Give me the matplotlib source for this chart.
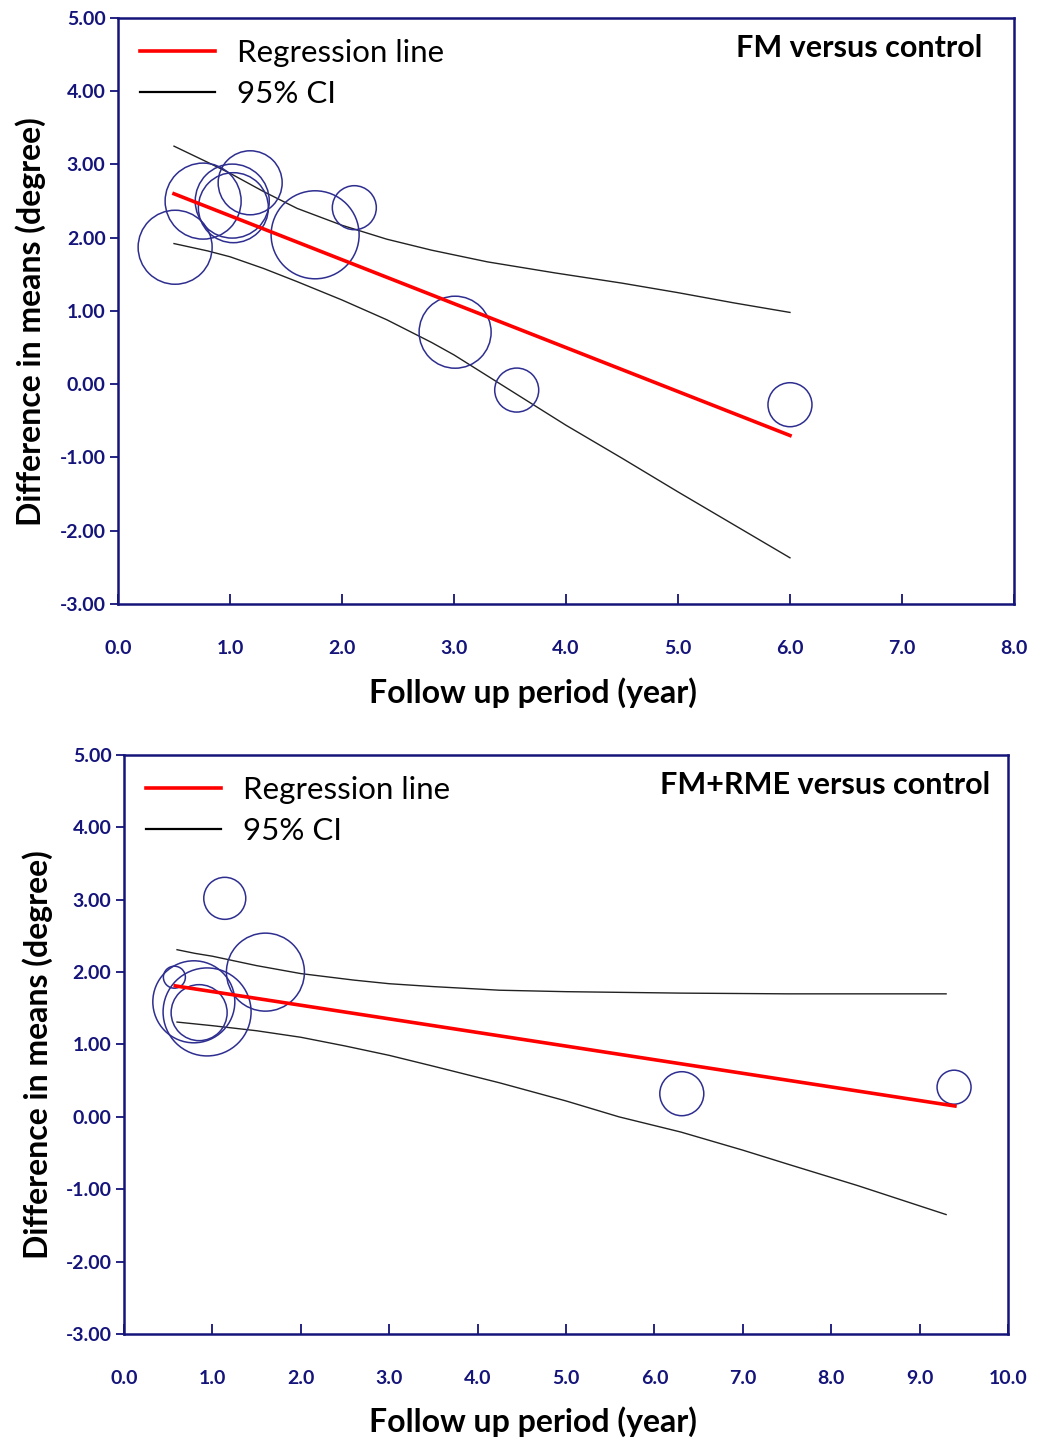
import matplotlib.pyplot as plt
from matplotlib.lines import Line2D

plt.rcParams['font.family'] = ['Lato', 'DejaVu Sans']

NAVY = '#14147a'
CIRCLE = '#2e2e90'

# --- FM versus control --------------------------------------------------
fm_years = [0.51, 0.76, 1.02, 1.03, 1.18, 1.76, 2.11, 3.01, 3.56, 6.00]
fm_diff = [1.87, 2.50, 2.50, 2.41, 2.75, 2.04, 2.41, 0.71, -0.08, -0.28]
fm_weight = [37, 38, 37, 35, 32, 44, 22, 36, 22, 22]

fm_reg_x = [0.5, 6.0]
fm_reg_y = [2.60, -0.70]

fm_ci_up_x = [0.5, 0.8, 1.0, 1.3, 1.6, 2.0, 2.4, 2.8, 3.3, 3.9, 4.5, 5.0, 5.5, 6.0]
fm_ci_up_y = [3.25, 3.03, 2.88, 2.63, 2.40, 2.17, 1.98, 1.83, 1.67, 1.52, 1.38,
              1.25, 1.11, 0.98]
fm_ci_lo_x = [0.5, 0.8, 1.0, 1.3, 1.6, 2.0, 2.4, 2.8, 3.0, 3.5, 4.0, 4.5, 5.0,
              5.5, 6.0]
fm_ci_lo_y = [1.92, 1.82, 1.74, 1.58, 1.40, 1.15, 0.88, 0.57, 0.40, -0.08, -0.56,
              -1.01, -1.47, -1.92, -2.37]

# --- FM+RME versus control ----------------------------------------------
rme_years = [0.57, 0.79, 0.85, 0.94, 1.14, 1.60, 6.31, 9.39]
rme_diff = [1.93, 1.59, 1.44, 1.45, 3.02, 2.00, 0.32, 0.41]
rme_weight = [11, 41, 28, 44, 21, 39, 22, 17]

rme_reg_x = [0.58, 9.40]
rme_reg_y = [1.81, 0.15]

rme_ci_up_x = [0.6, 0.8, 1.0, 1.5, 2.0, 2.6, 3.0, 3.5, 4.25, 5.0, 6.3, 7.5, 9.3]
rme_ci_up_y = [2.31, 2.26, 2.22, 2.09, 1.98, 1.89, 1.84, 1.80, 1.75, 1.73, 1.71,
               1.70, 1.70]
rme_ci_lo_x = [0.6, 1.0, 1.5, 2.0, 2.5, 3.0, 3.5, 4.25, 5.0, 5.6, 6.3, 7.0, 7.5,
               8.3, 9.3]
rme_ci_lo_y = [1.31, 1.26, 1.19, 1.10, 0.98, 0.85, 0.70, 0.47, 0.22, 0.00, -0.21,
               -0.46, -0.65, -0.95, -1.35]

y_ticks = [5, 4, 3, 2, 1, 0, -1, -2, -3]


def draw(ax, xs, ys, w, reg_x, reg_y, up_x, up_y, lo_x, lo_y, xmax, title,
         title_x):
    # bubble radius given in pixels -> marker area in points^2
    sizes = [(2 * r * 0.72) ** 2 for r in w]
    ax.scatter(xs, ys, s=sizes, facecolors='none', edgecolors=CIRCLE,
               linewidths=1.1, zorder=3)
    ax.plot(up_x, up_y, color='#222222', lw=1.0, zorder=2)
    ax.plot(lo_x, lo_y, color='#222222', lw=1.0, zorder=2)
    ax.plot(reg_x, reg_y, color='#ff0000', lw=2.6, zorder=4)

    ax.set_xlim(0, xmax)
    ax.set_ylim(-3, 5)
    ax.set_xticks(range(0, xmax + 1))
    ax.set_xticklabels(['%.1f' % v for v in range(0, xmax + 1)])
    ax.set_yticks(y_ticks)
    ax.set_yticklabels(['%.2f' % v for v in y_ticks])
    ax.tick_params(axis='x', direction='in', length=7, width=1.3,
                   color=NAVY, pad=26, labelsize=14, labelcolor=NAVY)
    ax.tick_params(axis='y', direction='out', length=6, width=1.3,
                   color=NAVY, pad=3, labelsize=14, labelcolor=NAVY)
    for lab in ax.get_xticklabels() + ax.get_yticklabels():
        lab.set_fontweight('bold')
    for sp in ax.spines.values():
        sp.set_color(NAVY)
        sp.set_linewidth(1.8)

    ax.set_xlabel('Follow up period (year)', fontsize=23, fontweight='bold')
    ax.xaxis.set_label_coords(0.463, -0.125)
    ax.set_ylabel('Difference in means (degree)', fontsize=23,
                  fontweight='bold')
    ax.yaxis.set_label_coords(-0.08, 0.482)

    handles = [Line2D([], [], color='#ff0000', lw=2.6),
               Line2D([], [], color='black', lw=1.6)]
    ax.legend(handles, ['Regression line', '95% CI'], loc='upper left',
              bbox_to_anchor=(0.011, 0.985), frameon=False, fontsize=22.5,
              handlelength=2.4, handletextpad=0.7, labelspacing=0.42,
              borderaxespad=0)
    ax.text(title_x, 0.948, title, transform=ax.transAxes, ha='right',
            va='center', fontsize=22, fontweight='bold')


fig = plt.figure(figsize=(10.49, 14.39), dpi=100)
ax1 = fig.add_axes([0.1125, 0.5803, 0.8541, 0.4072])
ax2 = fig.add_axes([0.1182, 0.0730, 0.8427, 0.4023])

draw(ax1, fm_years, fm_diff, fm_weight, fm_reg_x, fm_reg_y,
     fm_ci_up_x, fm_ci_up_y, fm_ci_lo_x, fm_ci_lo_y, 8, 'FM versus control',
     0.965)
draw(ax2, rme_years, rme_diff, rme_weight, rme_reg_x, rme_reg_y,
     rme_ci_up_x, rme_ci_up_y, rme_ci_lo_x, rme_ci_lo_y, 10,
     'FM+RME versus control', 0.98)

plt.savefig('out.png', dpi=100)
